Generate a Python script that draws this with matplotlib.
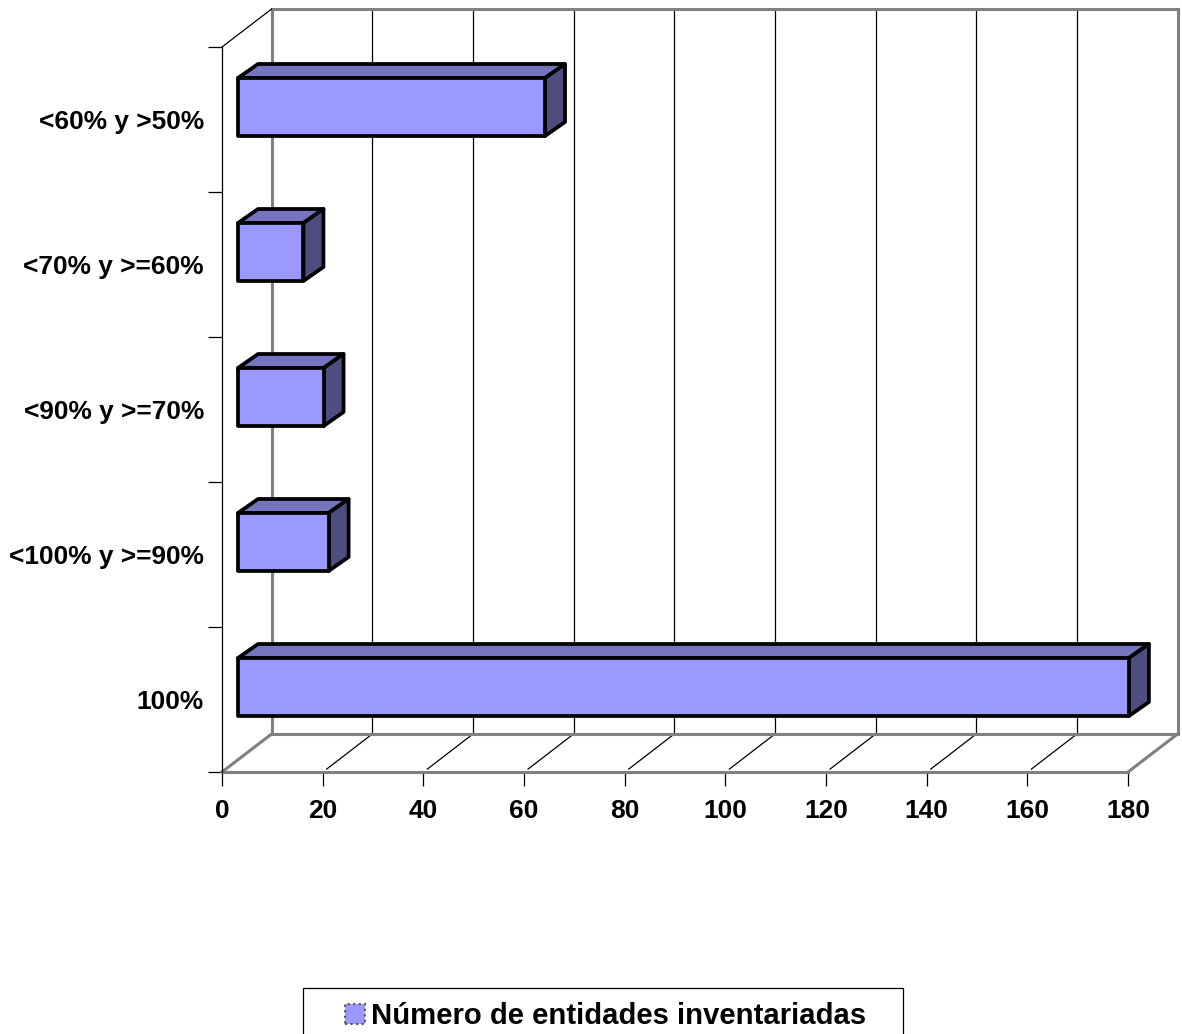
import matplotlib
matplotlib.use("Agg")
import matplotlib.pyplot as plt
from matplotlib.patches import Polygon, Patch, Rectangle

categories = ["100%", "<100% y >=90%", "<90% y >=70%", "<70% y >=60%", "<60% y >50%"]
values = [177, 18, 17, 13, 61]
xticks = [0, 20, 40, 60, 80, 100, 120, 140, 160, 180]
legend_label = "Número de entidades inventariadas"

plt.rcParams["font.family"] = ["Liberation Sans", "DejaVu Sans"]
plt.rcParams["font.weight"] = "bold"

W, H = 1182, 1034
fig = plt.figure(figsize=(W / 100, H / 100), dpi=100)
ax = fig.add_axes([222 / W, (H - 772) / H, 906 / W, 725 / H])
ax.set_xlim(0, 180)
ax.set_ylim(0, 5)

# depth of the fake 3d box, in data units
ux = 180 / 906
uy = 5 / 725
dx = 49.6 * ux
dy = 38 * uy
gray = "#808080"

# walls and floor
ax.plot([dx, dx, 180 + dx, 180 + dx, dx], [dy, 5 + dy, 5 + dy, dy, dy], color=gray, lw=2.2, clip_on=False, zorder=2, solid_joinstyle="miter")
ax.plot([0, dx], [0, dy], color=gray, lw=2.2, clip_on=False, zorder=2)
ax.plot([180, 180 + dx], [0, dy], color=gray, lw=2.2, clip_on=False, zorder=2)
ax.plot([0, dx], [5, 5 + dy], color="black", lw=0.9, clip_on=False, zorder=2)

for t in xticks[1:]:
    if t < 180:
        ax.plot([t + dx, t + dx], [dy, 5 + dy], color="black", lw=0.9, clip_on=False, zorder=1)
        ax.plot([t + 0.8, t + dx], [0.02, dy], color="black", lw=0.9, clip_on=False, zorder=1)

# bars
x0 = 16 * ux
bx = 20 * ux
by = 14 * uy
bar_h = 58 * uy
offset = 56 * uy
edge = dict(edgecolor="black", lw=2.7, joinstyle="round", clip_on=False, zorder=3)
for i, v in enumerate(values):
    y0 = i + offset
    x1 = x0 + v
    y1 = y0 + bar_h
    ax.add_patch(Polygon([(x0, y1), (x1, y1), (x1 + bx, y1 + by), (x0 + bx, y1 + by)], facecolor="#7575BF", **edge))
    ax.add_patch(Polygon([(x1, y0), (x1 + bx, y0 + by), (x1 + bx, y1 + by), (x1, y1)], facecolor="#4D4D80", **edge))
    ax.add_patch(Polygon([(x0, y0), (x1, y0), (x1, y1), (x0, y1)], facecolor="#9999FF", **edge))

for s in ["top", "right"]:
    ax.spines[s].set_visible(False)
ax.spines["left"].set_linewidth(0.9)
ax.spines["bottom"].set_color(gray)
ax.spines["bottom"].set_linewidth(2.2)
ax.spines["bottom"].set_zorder(2)

ax.set_xticks(xticks)
ax.set_xticklabels(xticks, fontsize=19, fontweight="bold")
ax.tick_params(axis="x", length=10, width=0.9, pad=9.5)
ax.set_yticks(range(6))
ax.set_yticklabels([])
ax.tick_params(axis="y", which="major", length=10, width=0.9)
ax.set_yticks([i + 0.5 for i in range(5)], minor=True)
ax.set_yticklabels(categories, minor=True, fontsize=18.9, fontweight="bold")
ax.tick_params(axis="y", which="minor", length=0, pad=13)

# legend box runs off the bottom of the picture
fig.add_artist(Rectangle((303 / W, -5 / H), 600 / W, (H - 988 + 5) / H, transform=fig.transFigure, facecolor="white", edgecolor="black", lw=0.9))
leg = fig.legend(
    handles=[Patch(facecolor="#9999FF", edgecolor="#555555", lw=1.5, linestyle=":", label=legend_label)],
    loc="center left",
    bbox_to_anchor=(345 / W, (H - 1016) / H),
    bbox_transform=fig.transFigure,
    frameon=False,
    borderaxespad=0,
    borderpad=0,
    prop={"size": 21.1, "weight": "bold"},
    handlelength=0.68,
    handleheight=0.68,
    handletextpad=0.2,
)

fig.savefig("out.png", dpi=100)
